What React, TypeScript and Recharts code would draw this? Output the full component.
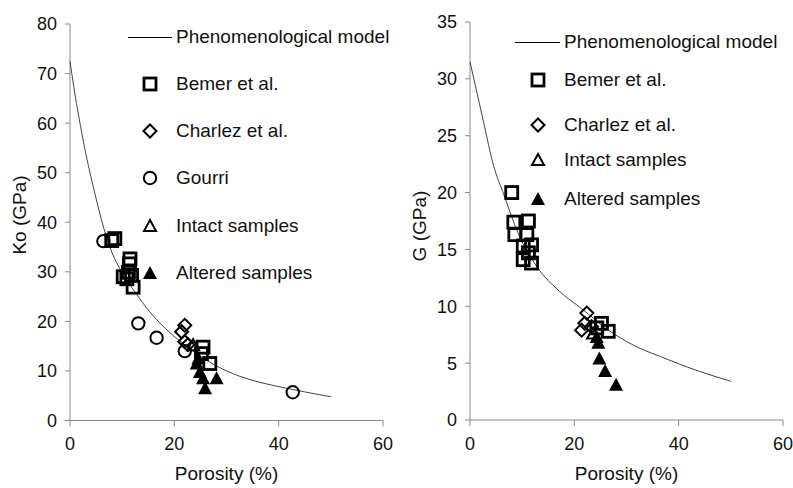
import { ScatterChart, Scatter, XAxis, YAxis } from 'recharts'

// Left panel: bulk modulus Ko vs porosity
const modelK = [
  { x: 0, y: 72.5 }, { x: 1, y: 65.5 }, { x: 2, y: 59.5 }, { x: 3, y: 54 }, { x: 4, y: 49.2 },
  { x: 5, y: 44.8 }, { x: 6, y: 40.6 }, { x: 7, y: 37 }, { x: 8, y: 34 }, { x: 10, y: 29.8 },
  { x: 12.8, y: 25.4 }, { x: 15, y: 22.3 }, { x: 17.2, y: 19.7 }, { x: 21.7, y: 15.5 }, { x: 27.4, y: 11.4 },
  { x: 32.6, y: 8.9 }, { x: 36.4, y: 7.7 }, { x: 42, y: 6.4 }, { x: 47.9, y: 5.2 }, { x: 50, y: 4.8 },
]
const bemerK = [
  { x: 8.6, y: 36.7 }, { x: 8.0, y: 36.3 }, { x: 11.5, y: 32.6 }, { x: 11.4, y: 31.6 },
  { x: 11.2, y: 29.9 }, { x: 10.9, y: 28.6 }, { x: 11.8, y: 29.3 }, { x: 12.1, y: 26.9 },
  { x: 10.2, y: 29.0 }, { x: 25.5, y: 14.8 }, { x: 26.8, y: 11.5 }, { x: 25.2, y: 13.5 },
]
const charlezK = [{ x: 22, y: 19.2 }, { x: 21.4, y: 17.9 }, { x: 22, y: 15.9 }, { x: 22.6, y: 15.3 }]
const gourriK = [
  { x: 6.4, y: 36.2 }, { x: 13.1, y: 19.6 }, { x: 16.6, y: 16.7 }, { x: 22, y: 14 }, { x: 42.7, y: 5.7 },
]
const intactK = [{ x: 23.6, y: 15.2 }]
const alteredK = [
  { x: 24.6, y: 12.5 }, { x: 24.3, y: 11.5 }, { x: 24.9, y: 9.8 }, { x: 25.5, y: 8.5 },
  { x: 28.1, y: 8.5 }, { x: 25.9, y: 6.5 },
]
const ticksK = [0, 10, 20, 30, 40, 50, 60, 70, 80]

// Right panel: shear modulus G vs porosity
const modelG = [
  { x: 0, y: 31.5 }, { x: 2.6, y: 26.2 }, { x: 4.5, y: 22.4 }, { x: 6.5, y: 19.8 },
  { x: 9.25, y: 16.4 }, { x: 12.8, y: 13.5 }, { x: 17.2, y: 11.3 }, { x: 21.1, y: 9.9 },
  { x: 27.5, y: 7.6 }, { x: 32.6, y: 6.3 }, { x: 36.4, y: 5.6 }, { x: 42, y: 4.6 }, { x: 50, y: 3.4 },
]
const bemerG = [
  { x: 8.0, y: 20.0 }, { x: 8.4, y: 17.4 }, { x: 11.2, y: 17.5 }, { x: 8.6, y: 16.3 },
  { x: 10.9, y: 16.3 }, { x: 11.8, y: 15.4 }, { x: 11.2, y: 14.7 }, { x: 10.2, y: 14.1 },
  { x: 11.8, y: 13.8 }, { x: 10.2, y: 15.3 }, { x: 25.2, y: 8.5 }, { x: 26.5, y: 7.8 }, { x: 24.3, y: 8.1 },
]
const charlezG = [{ x: 22.4, y: 9.4 }, { x: 22, y: 8.5 }, { x: 21.4, y: 7.9 }, { x: 23.3, y: 8.2 }]
const intactG = [{ x: 23.6, y: 7.6 }]
const alteredG = [
  { x: 24.3, y: 7.3 }, { x: 24.6, y: 6.8 }, { x: 24.8, y: 5.4 }, { x: 25.9, y: 4.3 }, { x: 28, y: 3.1 },
]
const ticksG = [0, 5, 10, 15, 20, 25, 30, 35]
const ticksX = [0, 20, 40, 60]

const FONT = '"Liberation Sans", Arial, sans-serif'

const Square = (p: any) => (
  <rect x={p.cx - 6} y={p.cy - 6} width={12} height={12} fill="none" stroke="#000" strokeWidth={2.8} />
)
const Diamond = (p: any) => (
  <path d={`M${p.cx},${p.cy - 6.5} L${p.cx + 6.5},${p.cy} L${p.cx},${p.cy + 6.5} L${p.cx - 6.5},${p.cy} Z`}
    fill="none" stroke="#000" strokeWidth={2} />
)
const Circle = (p: any) => (
  <circle cx={p.cx} cy={p.cy} r={6.2} fill="none" stroke="#000" strokeWidth={2} />
)
const OpenTri = (p: any) => (
  <path d={`M${p.cx},${p.cy - 6} L${p.cx + 6},${p.cy + 5} L${p.cx - 6},${p.cy + 5} Z`}
    fill="none" stroke="#000" strokeWidth={2} />
)
const FilledTri = (p: any) => (
  <path d={`M${p.cx},${p.cy - 7} L${p.cx + 7},${p.cy + 6} L${p.cx - 7},${p.cy + 6} Z`} fill="#000" />
)
const NoDot = () => <g />

const textStyle = { fontSize: 19, fontFamily: FONT, color: '#111', whiteSpace: 'nowrap' as const }

function LegendItem({ x, y, marker, text }: { x: number; y: number; marker: any; text: string }) {
  const M = marker
  return (
    <>
      <svg style={{ position: 'absolute', left: x - 26 - 10, top: y - 10 }} width={20} height={20}>
        <M cx={10} cy={10} />
      </svg>
      <div style={{ position: 'absolute', left: x, top: y - 12, height: 24, lineHeight: '24px', ...textStyle }}>
        {text}
      </div>
    </>
  )
}

function ModelLegend({ x1, x2, y, tx }: { x1: number; x2: number; y: number; tx: number }) {
  return (
    <>
      <div style={{ position: 'absolute', left: x1, top: y, width: x2 - x1, height: 1, background: '#000' }} />
      <div style={{ position: 'absolute', left: tx, top: y - 12, height: 24, lineHeight: '24px', ...textStyle }}>
        Phenomenological model
      </div>
    </>
  )
}

const axisProps = {
  stroke: '#8a8a8a',
  tick: { fill: '#111', fontSize: 18, fontFamily: FONT },
}

function Panel({ width, top, right, bottomAxis, domain, yTicks, model, series }: any) {
  return (
    <ScatterChart width={width} height={488} margin={{ top, right, bottom: 0, left: 0 }}>
      <XAxis
        type="number" dataKey="x" domain={[0, 60]} ticks={ticksX} height={bottomAxis}
        tickSize={6} tickMargin={11} {...axisProps}
        label={{ value: 'Porosity (%)', position: 'insideBottom', offset: 8, fill: '#111', fontSize: 19, fontFamily: FONT }}
      />
      <YAxis type="number" dataKey="y" domain={domain} ticks={yTicks} width={70} tickSize={5} tickMargin={8} {...axisProps} />
      <Scatter data={model} line={{ stroke: '#444', strokeWidth: 1 }} lineJointType="monotoneX" shape={NoDot} isAnimationActive={false} />
      {series.map((s: any, i: number) => (
        <Scatter key={i} data={s.data} shape={s.shape} isAnimationActive={false} />
      ))}
    </ScatterChart>
  )
}

export default function App() {
  return (
    <div style={{ position: 'absolute', left: 0, top: 0, width: 793, height: 488, background: '#fff', overflow: 'hidden' }}>
      <div style={{ position: 'absolute', left: 0, top: 0 }}>
        <Panel width={400} top={24} right={17} bottomAxis={67.5} domain={[0, 80]} yTicks={ticksK} model={modelK}
          series={[
            { data: bemerK, shape: Square }, { data: charlezK, shape: Diamond }, { data: gourriK, shape: Circle },
            { data: intactK, shape: OpenTri }, { data: alteredK, shape: FilledTri },
          ]} />
      </div>
      <div style={{ position: 'absolute', left: 400, top: 0 }}>
        <Panel width={393} top={22} right={10} bottomAxis={68} domain={[0, 35]} yTicks={ticksG} model={modelG}
          series={[
            { data: bemerG, shape: Square }, { data: charlezG, shape: Diamond },
            { data: intactG, shape: OpenTri }, { data: alteredG, shape: FilledTri },
          ]} />
      </div>

      <div style={{ position: 'absolute', left: 20 - 50, top: 215 - 12, width: 100, textAlign: 'center', transform: 'rotate(-90deg)', lineHeight: '24px', ...textStyle }}>
        Ko (GPa)
      </div>
      <div style={{ position: 'absolute', left: 420 - 50, top: 226 - 12, width: 100, textAlign: 'center', transform: 'rotate(-90deg)', lineHeight: '24px', ...textStyle }}>
        G (GPa)
      </div>

      <ModelLegend x1={128} x2={172} y={37} tx={176} />
      <LegendItem x={176} y={84} marker={Square} text="Bemer et al." />
      <LegendItem x={176} y={131} marker={Diamond} text="Charlez et al." />
      <LegendItem x={176} y={178} marker={Circle} text="Gourri" />
      <LegendItem x={176} y={226} marker={OpenTri} text="Intact samples" />
      <LegendItem x={176} y={273} marker={FilledTri} text="Altered samples" />

      <ModelLegend x1={515} x2={560} y={42} tx={564} />
      <LegendItem x={564} y={80} marker={Square} text="Bemer et al." />
      <LegendItem x={564} y={125} marker={Diamond} text="Charlez et al." />
      <LegendItem x={564} y={160} marker={OpenTri} text="Intact samples" />
      <LegendItem x={564} y={199} marker={FilledTri} text="Altered samples" />
    </div>
  )
}
